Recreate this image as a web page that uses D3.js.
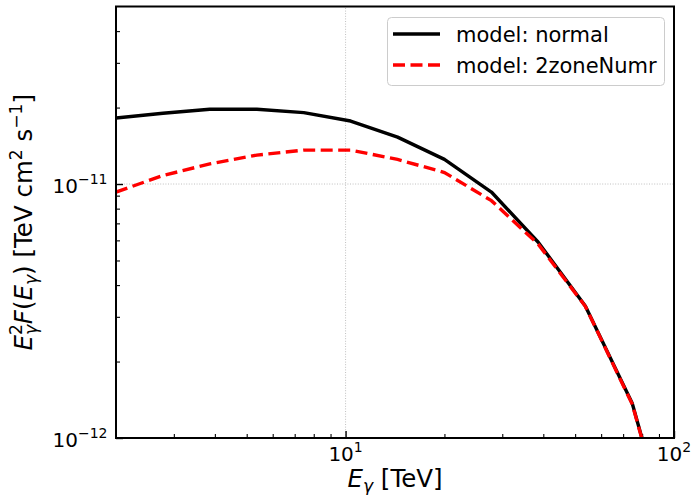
<!DOCTYPE html>
<html>
<head>
<meta charset="utf-8">
<script src="https://cdn.jsdelivr.net/npm/d3@7"></script>
<style>
  body { margin: 0; background: #fff; }
  text { font-family: "DejaVu Sans", sans-serif; fill: #000; }
</style>
</head>
<body>
<div id="chart"></div>
<script>
// photon energies in TeV (7 points per decade from 2 TeV)
const energy = [2.0, 2.78, 3.86, 5.37, 7.46, 10.36, 14.4, 20.0, 27.8, 38.6, 53.7, 74.6, 103.6];
// E^2 F(E) in TeV cm^-2 s^-1
const fluxNormal = [1.82e-11, 1.90e-11, 1.97e-11, 1.97e-11, 1.91e-11, 1.77e-11, 1.53e-11, 1.25e-11, 9.3e-12, 5.9e-12, 3.31e-12, 1.37e-12, 3.0e-13];
const flux2zone  = [9.3e-12, 1.08e-11, 1.20e-11, 1.30e-11, 1.36e-11, 1.36e-11, 1.25e-11, 1.11e-11, 8.6e-12, 5.8e-12, 3.3e-12, 1.36e-12, 3.0e-13];
const seriesNames = ["model: normal", "model: 2zoneNumr"];

const xMajor = [10, 100];
const xMajorExp = ["1", "2"];
const xMinor = [3, 4, 5, 6, 7, 8, 9, 20, 30, 40, 50, 60, 70, 80, 90];
const yMajor = [1e-12, 1e-11];
const yMajorExp = ["\u221212", "\u221211"];
const yMinor = [2e-12, 3e-12, 4e-12, 5e-12, 6e-12, 7e-12, 8e-12, 9e-12, 2e-11, 3e-11, 4e-11];

const width = 692, height = 495;
const margin = { left: 116, right: 18, top: 6.5, bottom: 57 };
const tickFont = 20, labelFont = 24.5, legendFont = 21;

const svg = d3.select("#chart")
  .append("svg")
  .attr("width", width)
  .attr("height", height);

const x = d3.scaleLog()
  .domain([2, 100])
  .range([margin.left, width - margin.right]);

const y = d3.scaleLog()
  .domain([1e-12, 5e-11])
  .range([height - margin.bottom, margin.top]);

svg.append("clipPath")
  .attr("id", "plotClip")
  .append("rect")
  .attr("x", margin.left)
  .attr("y", margin.top)
  .attr("width", x.range()[1] - margin.left)
  .attr("height", y.range()[0] - margin.top);

// grid at major ticks
svg.append("line")
  .attr("x1", x(10)).attr("x2", x(10))
  .attr("y1", y.range()[0]).attr("y2", y.range()[1])
  .attr("stroke", "#b0b0b0").attr("stroke-width", 0.8)
  .attr("stroke-dasharray", "1,1.6");
svg.append("line")
  .attr("x1", x.range()[0]).attr("x2", x.range()[1])
  .attr("y1", y(1e-11)).attr("y2", y(1e-11))
  .attr("stroke", "#b0b0b0").attr("stroke-width", 0.8)
  .attr("stroke-dasharray", "1,1.6");

// ticks (inward, only bottom and left)
function drawAxis(axis, transform) {
  const g = svg.append("g")
    .attr("transform", transform)
    .call(axis);
  g.select(".domain").remove();
  g.selectAll("text").remove();
  return g;
}
drawAxis(d3.axisBottom(x).tickValues(xMinor).tickSize(-4), `translate(0,${y.range()[0]})`)
  .selectAll("line").attr("stroke-width", 1.1);
drawAxis(d3.axisBottom(x).tickValues(xMajor).tickSize(-7), `translate(0,${y.range()[0]})`)
  .selectAll("line").attr("stroke-width", 1.4);
drawAxis(d3.axisLeft(y).tickValues(yMinor).tickSize(-4), `translate(${x.range()[0]},0)`)
  .selectAll("line").attr("stroke-width", 1.1);
drawAxis(d3.axisLeft(y).tickValues(yMajor).tickSize(-7), `translate(${x.range()[0]},0)`)
  .selectAll("line").attr("stroke-width", 1.4);

// tick labels with superscripts
xMajor.forEach((v, i) => {
  const t = svg.append("text")
    .attr("x", x(v))
    .attr("y", 461)
    .attr("text-anchor", "middle")
    .style("font-size", tickFont + "px");
  t.append("tspan").text("10");
  t.append("tspan").attr("dy", -9).style("font-size", (tickFont * 0.7) + "px").text(xMajorExp[i]);
});
yMajor.forEach((v, i) => {
  const t = svg.append("text")
    .attr("x", x.range()[0] - 8.5)
    .attr("y", y(v) + 8.5)
    .attr("text-anchor", "end")
    .style("font-size", tickFont + "px");
  t.append("tspan").text("10");
  t.append("tspan").attr("dy", -9).style("font-size", (tickFont * 0.7) + "px").text(yMajorExp[i]);
});

// lines
const line = d3.line()
  .x(d => x(d[0]))
  .y(d => y(d[1]));

const plot = svg.append("g").attr("clip-path", "url(#plotClip)");
plot.append("path")
  .datum(energy.map((e, i) => [e, fluxNormal[i]]))
  .attr("d", line)
  .attr("fill", "none")
  .attr("stroke", "#000")
  .attr("stroke-width", 3.4)
  .attr("stroke-linejoin", "round");
plot.append("path")
  .datum(energy.map((e, i) => [e, flux2zone[i]]))
  .attr("d", line)
  .attr("fill", "none")
  .attr("stroke", "#ff0000")
  .attr("stroke-width", 3.4)
  .attr("stroke-dasharray", "12,5.5");

// frame
svg.append("rect")
  .attr("x", x.range()[0])
  .attr("y", y.range()[1])
  .attr("width", x.range()[1] - x.range()[0])
  .attr("height", y.range()[0] - y.range()[1])
  .attr("fill", "none")
  .attr("stroke", "#000")
  .attr("stroke-width", 2);

// math-ish label helper: parts = [text, italic, pos ('b','sub','sup'), stackBack]
function mathLabel(t, parts, size) {
  let level = 0; // current baseline offset
  let prev = null;
  const offs = { b: 0, sub: 0.2 * size, sup: -0.42 * size };
  parts.forEach(p => {
    const [txt, it, pos, back] = p;
    const ts = t.append("tspan")
      .text(txt)
      .style("font-style", it ? "italic" : "normal")
      .style("font-size", (pos === "b" ? size : size * 0.7) + "px");
    const target = offs[pos];
    if (target - level !== 0) ts.attr("dy", target - level);
    level = target;
    if (back && prev) ts.attr("dx", -prev.node().getComputedTextLength());
    prev = ts;
  });
}

// x label
const xl = svg.append("text")
  .attr("x", 395)
  .attr("y", 487)
  .attr("text-anchor", "middle")
  .style("font-size", labelFont + "px");
mathLabel(xl, [["E", true, "b"], ["\u03b3", true, "sub"], [" [TeV]", false, "b"]], labelFont);

// y label
const yl = svg.append("text")
  .attr("transform", `translate(32,${(y.range()[0] + y.range()[1]) / 2}) rotate(-90)`)
  .attr("text-anchor", "middle")
  .style("font-size", labelFont + "px");
mathLabel(yl, [
  ["E", true, "b"], ["\u03b3", true, "sub"], ["2", false, "sup", true],
  ["F", true, "b"], ["(", false, "b"], ["E", true, "b"], ["\u03b3", true, "sub"], [")", false, "b"],
  [" [TeV cm", false, "b"], ["2", false, "sup"], [" s", false, "b"], ["\u22121", false, "sup"], ["]", false, "b"]
], labelFont);

// legend
const legend = svg.append("g");
legend.append("rect")
  .attr("x", 387.5).attr("y", 17.5)
  .attr("width", 277).attr("height", 68)
  .attr("rx", 4)
  .attr("fill", "rgba(255,255,255,0.8)")
  .attr("stroke", "#cccccc")
  .attr("stroke-width", 1);
const legendStyle = [
  { color: "#000", dash: null },
  { color: "#ff0000", dash: "12,5.5" }
];
seriesNames.forEach((name, i) => {
  const ly = 34 + i * 31;
  legend.append("line")
    .attr("x1", 393).attr("x2", 440)
    .attr("y1", ly).attr("y2", ly)
    .attr("stroke", legendStyle[i].color)
    .attr("stroke-width", 3.4)
    .attr("stroke-dasharray", legendStyle[i].dash);
  legend.append("text")
    .attr("x", 456)
    .attr("y", ly + 8)
    .style("font-size", legendFont + "px")
    .text(name);
});
</script>
</body>
</html>
